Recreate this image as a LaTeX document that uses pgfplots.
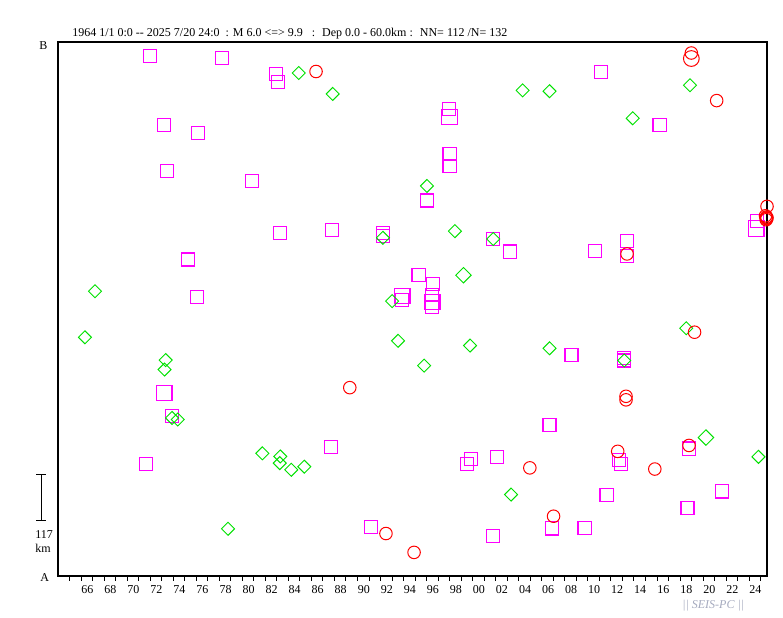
\documentclass[border=0pt]{standalone}
\usepackage{fontspec}
\setmainfont{Liberation Serif}
\usepackage{pgfplots}
\usepackage{pgfplotstable}
\pgfplotsset{compat=1.18}
\definecolor{sqcol}{RGB}{255,0,255}
\definecolor{dmcol}{RGB}{0,225,0}
\definecolor{cicol}{RGB}{255,0,0}
\definecolor{seis}{RGB}{165,170,190}

\pgfplotstableread{
x y
1972.01 1323
1978.24 1318
1982.95 1276
1983.10 1256
1973.23 1146
1976.15 1126
1973.49 1029
1980.87 1004
1983.30 872
1987.81 879
1992.21 872
1992.21 864
1997.97 1187
1997.99 1073
1997.99 1042
1996.03 955
2001.79 856
2003.24 825
1995.30 765
1996.56 742
1996.49 714
1996.49 684
1993.89 701
1975.31 807
1975.31 804
1976.07 709
1973.92 406
1971.67 285
1987.73 328
1999.53 284
1999.88 297
2002.11 302
1991.17 124
2001.79 101
2011.17 1282
2016.22 1146
2024.68 902
2013.37 852
2013.40 814
2010.62 826
2008.58 561
2013.16 554
2013.16 548
2006.67 385
2012.70 294
2012.90 284
2018.78 324
2011.62 205
2021.64 215
2018.65 172
2006.89 121
2009.71 123
}\squares

\pgfplotstableread{
x y
1997.99 1167
1996.49 697
1993.89 712
1973.23 465
2024.62 884
}\bigsquares

\pgfplotstableread{
x y
1984.90 1279
1987.85 1226
1996.03 992
1998.46 877
1992.21 860
2001.79 857
2004.34 1235
2006.67 1233
2018.87 1248
2013.89 1164
1993.00 699
1993.52 598
1999.77 586
1995.79 535
1967.21 724
1966.34 607
1973.35 549
1973.25 525
1973.90 402
1974.39 398
1981.74 312
1983.30 304
1983.25 287
1984.25 270
1985.38 278
1978.76 120
2003.33 207
2018.54 630
2006.67 579
2013.16 548
2024.81 303
}\diamonds

\pgfplotstableread{
x y
1999.20 765
2020.25 352
}\bigdiamonds

\pgfplotstableread{
x y
1986.40 1283
2018.98 1330
2021.18 1209
2025.55 940
2025.42 916
2025.55 911
2025.48 906
2025.50 913
2025.52 909
2013.40 819
2019.26 620
2013.31 457
2013.31 448
1989.33 479
1992.47 108
1994.91 60
2004.96 275
2012.59 317
2015.81 272
2018.78 332
2007.02 152
}\circles

\pgfplotstableread{
x y
2018.98 1316
}\bigcircles

\begin{document}
\begin{tikzpicture}
\path[use as bounding box] (0,0) rectangle (587.25pt,463.5pt);
\begin{axis}[
  at={(43.5pt,31.5pt)}, anchor=south west,
  scale only axis, width=531.75pt, height=400.5pt,
  xmin=1964, xmax=2025.55, ymin=0, ymax=1358,
  axis line style={line width=0.9pt},
  xtick={1966,1968,...,2024},
  minor xtick={1965,1967,...,2025},
  xticklabels={66,68,70,72,74,76,78,80,82,84,86,88,90,92,94,96,98,00,02,04,06,08,10,12,14,16,18,20,22,24},
  xticklabel style={anchor=north west, inner xsep=0pt, font=\fontsize{9}{10}\selectfont},
  ytick=\empty,
  tick align=outside, xtick pos=bottom,
  major tick length=3.4pt, minor tick length=3.4pt,
  every tick/.style={line width=0.75pt, black},
  clip=false,
]
\addplot[only marks, mark=square, mark size=4.9pt, mark options={draw=sqcol, line width=0.85pt}] table {\squares};
\addplot[only marks, mark=square, mark size=5.8pt, mark options={draw=sqcol, line width=0.85pt}] table {\bigsquares};
\addplot[only marks, mark=square, mark size=3.45pt, mark options={draw=dmcol, line width=0.7pt, rotate=45}] table {\diamonds};
\addplot[only marks, mark=square, mark size=4.1pt, mark options={draw=dmcol, line width=0.7pt, rotate=45}] table {\bigdiamonds};
\addplot[only marks, mark=o, mark size=4.7pt, mark options={draw=cicol, line width=0.75pt}] table {\circles};
\addplot[only marks, mark=o, mark size=5.9pt, mark options={draw=cicol, line width=0.75pt}] table {\bigcircles};
\end{axis}
\begin{scope}[x=0.75pt, y=-0.75pt, shift={(0,463.5pt)}, font=\fontsize{9}{10}\selectfont]
\node[anchor=base west, inner sep=0pt] at (72,36.7) {1964 1/1 0:0 -{}- 2025 7/20 24:0 \ : M 6.0 <=> 9.9 \ \ : \ Dep 0.0 - 60.0km : \ NN= 112 /N= 132};
\node[anchor=base west, inner sep=0pt] at (39,49.3) {B};
\node[anchor=base west, inner sep=0pt] at (40,581.7) {A};
\draw[line width=0.75pt] (41,475) -- (41,521) (36,475) -- (46,475) (36,521) -- (46,521);
\node[anchor=base west, inner sep=0pt] at (35,539) {117};
\node[anchor=base west, inner sep=0pt] at (35,553) {km};
\node[anchor=base west, inner sep=0pt, text=seis] at (682,608.5) {\itshape || SEIS-PC ||};
\end{scope}
\end{tikzpicture}
\end{document}
